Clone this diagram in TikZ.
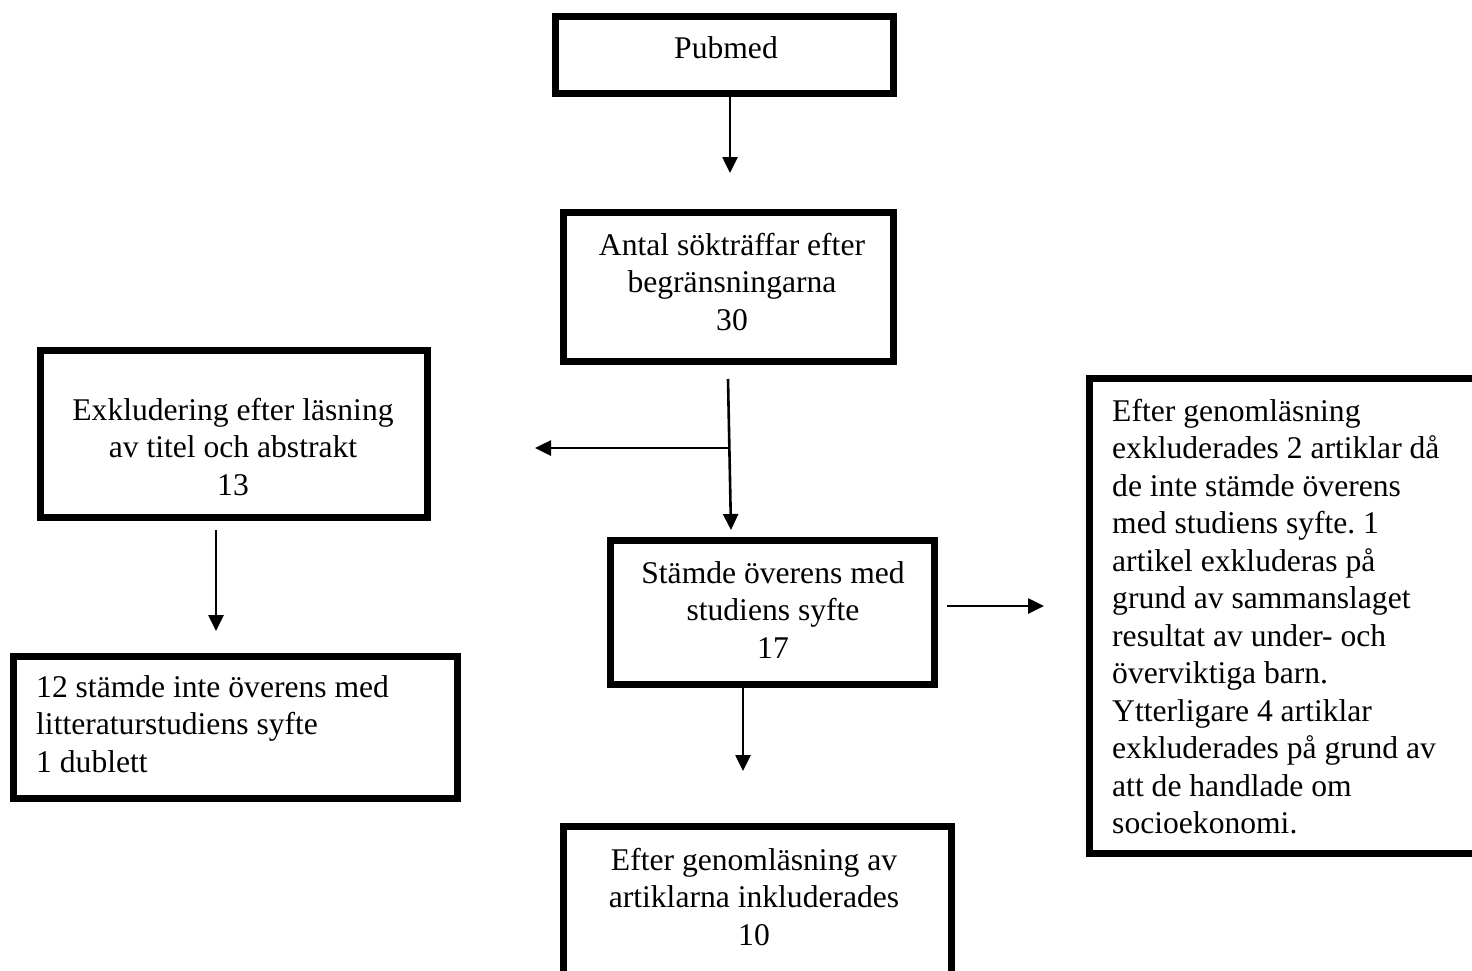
\documentclass[tikz,border=0pt]{standalone}
\usepackage{fontspec}
\setmainfont{Liberation Serif}
\usetikzlibrary{arrows.meta}
\frenchspacing
\begin{document}
\begin{tikzpicture}[x=1pt,y=-1pt,
  box/.style={draw=black, line width=7pt, fill=white, inner sep=0pt},
  txt/.style={inner sep=0pt, anchor=north, font=\fontsize{31.6}{37.5}\selectfont},
  conn/.style={line width=2.6pt, -{Triangle[length=16pt,width=15pt]}}]
\clip (0,0) rectangle (1472,970);
\fill[white] (0,0) rectangle (1472,970);
% boxes
\node[box, minimum width=338pt, minimum height=77pt]  (pub)    at (724.5,55) {};
\node[box, minimum width=330pt, minimum height=149pt] (antal)  at (728.5,287) {};
\node[box, minimum width=387pt, minimum height=167pt] (exk)    at (234,434) {};
\node[box, minimum width=324pt, minimum height=144pt] (stamde) at (772.5,612.5) {};
\node[box, minimum width=391pt, minimum height=475pt] (right)  at (1284.5,615.5) {};
\node[box, minimum width=444pt, minimum height=142pt] (dup)    at (235.5,727.5) {};
\node[box, minimum width=388pt, minimum height=159pt] (final)  at (757.5,905.5) {};
% texts
\node[txt, align=center] (pubt) at (726,36) {Pubmed};
\node[txt, align=center] (antalt) at (732,233) {Antal sökträffar efter\\begränsningarna\\30};
\node[txt, align=center] (exkt) at (233,398) {Exkludering efter läsning\\av titel och abstrakt\\13};
\node[txt, align=center] (stamdet) at (773,561) {Stämde överens med\\studiens syfte\\17};
\node[txt, align=left, anchor=north west] (rightt) at (1112,399) {Efter genomläsning\\exkluderades 2 artiklar då\\de inte stämde överens\\med studiens syfte. 1\\artikel exkluderas på\\grund av sammanslaget\\resultat av under- och\\överviktiga barn.\\Ytterligare 4 artiklar\\exkluderades på grund av\\att de handlade om\\socioekonomi.};
\node[txt, align=left, anchor=north west] (dupt) at (36,675) {12 stämde inte överens med\\litteraturstudiens syfte\\1 dublett};
\node[txt, align=center] (finalt) at (754,848) {Efter genomläsning av\\artiklarna inkluderades\\10};
% connector ends
\coordinate (c1s) at (730,90);
\coordinate (c1e) at (730,173);
\coordinate (c2s) at (728,379);
\coordinate (c2b) at (729,448);
\coordinate (c2e) at (731,530);
\coordinate (c3e) at (535,448);
\coordinate (c4s) at (216,530);
\coordinate (c4e) at (216,631);
\coordinate (c5s) at (947,606);
\coordinate (c5e) at (1044,606);
\coordinate (c6s) at (743,681);
\coordinate (c6e) at (743,771);
% connectors
\draw[conn] (c1s) -- (c1e);
\draw[conn] (c2s) -- (c2e);
\draw[conn] (c2b) -- (c3e);
\draw[conn] (c4s) -- (c4e);
\draw[conn] (c5s) -- (c5e);
\draw[conn] (c6s) -- (c6e);
\end{tikzpicture}
\end{document}
